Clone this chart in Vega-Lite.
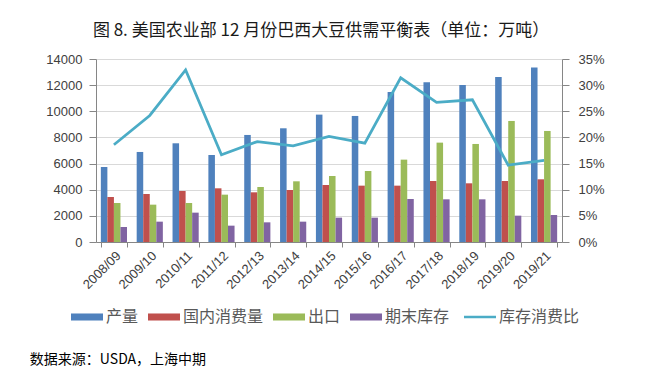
{
  "$schema": "https://vega.github.io/schema/vega-lite/v6.json",
  "background": "white",
  "padding": {"left": 29, "top": 22, "right": 10, "bottom": 2},
  "title": {
    "text": "数据来源：USDA，上海中期",
    "orient": "bottom",
    "anchor": "start",
    "frame": "bounds",
    "fontSize": 14,
    "font": "Noto Sans CJK SC",
    "fontWeight": "normal",
    "color": "#000000",
    "offset": 28,
    "dx": -16
  },
  "datasets": {
    "bars": [
      {"year": "2008/09", "series": "产量", "value": 5740},
      {"year": "2008/09", "series": "国内消费量", "value": 3444},
      {"year": "2008/09", "series": "出口", "value": 2985},
      {"year": "2008/09", "series": "期末库存", "value": 1148},
      {"year": "2009/10", "series": "产量", "value": 6888},
      {"year": "2009/10", "series": "国内消费量", "value": 3673},
      {"year": "2009/10", "series": "出口", "value": 2857},
      {"year": "2009/10", "series": "期末库存", "value": 1556},
      {"year": "2010/11", "series": "产量", "value": 7551},
      {"year": "2010/11", "series": "国内消费量", "value": 3903},
      {"year": "2010/11", "series": "出口", "value": 2985},
      {"year": "2010/11", "series": "期末库存", "value": 2245},
      {"year": "2011/12", "series": "产量", "value": 6658},
      {"year": "2011/12", "series": "国内消费量", "value": 4107},
      {"year": "2011/12", "series": "出口", "value": 3622},
      {"year": "2011/12", "series": "期末库存", "value": 1250},
      {"year": "2012/13", "series": "产量", "value": 8189},
      {"year": "2012/13", "series": "国内消费量", "value": 3801},
      {"year": "2012/13", "series": "出口", "value": 4209},
      {"year": "2012/13", "series": "期末库存", "value": 1505},
      {"year": "2013/14", "series": "产量", "value": 8699},
      {"year": "2013/14", "series": "国内消费量", "value": 3980},
      {"year": "2013/14", "series": "出口", "value": 4643},
      {"year": "2013/14", "series": "期末库存", "value": 1556},
      {"year": "2014/15", "series": "产量", "value": 9745},
      {"year": "2014/15", "series": "国内消费量", "value": 4362},
      {"year": "2014/15", "series": "出口", "value": 5051},
      {"year": "2014/15", "series": "期末库存", "value": 1862},
      {"year": "2015/16", "series": "产量", "value": 9643},
      {"year": "2015/16", "series": "国内消费量", "value": 4311},
      {"year": "2015/16", "series": "出口", "value": 5434},
      {"year": "2015/16", "series": "期末库存", "value": 1862},
      {"year": "2016/17", "series": "产量", "value": 11480},
      {"year": "2016/17", "series": "国内消费量", "value": 4311},
      {"year": "2016/17", "series": "出口", "value": 6301},
      {"year": "2016/17", "series": "期末库存", "value": 3291},
      {"year": "2017/18", "series": "产量", "value": 12219},
      {"year": "2017/18", "series": "国内消费量", "value": 4668},
      {"year": "2017/18", "series": "出口", "value": 7602},
      {"year": "2017/18", "series": "期末库存", "value": 3265},
      {"year": "2018/19", "series": "产量", "value": 12015},
      {"year": "2018/19", "series": "国内消费量", "value": 4490},
      {"year": "2018/19", "series": "出口", "value": 7500},
      {"year": "2018/19", "series": "期末库存", "value": 3265},
      {"year": "2019/20", "series": "产量", "value": 12628},
      {"year": "2019/20", "series": "国内消费量", "value": 4668},
      {"year": "2019/20", "series": "出口", "value": 9260},
      {"year": "2019/20", "series": "期末库存", "value": 2015},
      {"year": "2019/21", "series": "产量", "value": 13342},
      {"year": "2019/21", "series": "国内消费量", "value": 4796},
      {"year": "2019/21", "series": "出口", "value": 8495},
      {"year": "2019/21", "series": "期末库存", "value": 2066}
    ],
    "ratio": [
      {"year": "2008/09", "series": "库存消费比", "ratio": 0.186},
      {"year": "2009/10", "series": "库存消费比", "ratio": 0.242},
      {"year": "2010/11", "series": "库存消费比", "ratio": 0.329},
      {"year": "2011/12", "series": "库存消费比", "ratio": 0.167},
      {"year": "2012/13", "series": "库存消费比", "ratio": 0.192},
      {"year": "2013/14", "series": "库存消费比", "ratio": 0.184},
      {"year": "2014/15", "series": "库存消费比", "ratio": 0.202},
      {"year": "2015/16", "series": "库存消费比", "ratio": 0.189},
      {"year": "2016/17", "series": "库存消费比", "ratio": 0.314},
      {"year": "2017/18", "series": "库存消费比", "ratio": 0.267},
      {"year": "2018/19", "series": "库存消费比", "ratio": 0.272},
      {"year": "2019/20", "series": "库存消费比", "ratio": 0.147},
      {"year": "2019/21", "series": "库存消费比", "ratio": 0.156}
    ]
  },
  "vconcat": [
    {
      "width": 466,
      "height": 183,
      "title": {
        "text": "图 8. 美国农业部 12 月份巴西大豆供需平衡表（单位：万吨）",
        "anchor": "middle",
        "frame": "group",
        "fontSize": 17,
        "font": "Noto Sans CJK SC",
        "fontWeight": "normal",
        "color": "#1a1a1a",
        "offset": 13,
        "dx": -8
      },
      "layer": [
        {
          "data": {"name": "bars"},
          "mark": {"type": "bar"},
          "encoding": {
            "x": {
              "field": "year",
              "type": "nominal",
              "scale": {"paddingInner": 0.27, "paddingOuter": 0.135},
              "axis": {
                "title": null,
                "labelAngle": -45,
                "tickBand": "extent",
                "tickSize": 5,
                "labelPadding": 2,
                "grid": false
              }
            },
            "xOffset": {
              "field": "series",
              "type": "nominal",
              "sort": ["产量", "国内消费量", "出口", "期末库存"],
              "scale": {"paddingInner": 0, "paddingOuter": 0}
            },
            "y": {
              "field": "value",
              "type": "quantitative",
              "scale": {"domain": [0, 14000], "nice": false},
              "axis": {
                "title": null,
                "values": [0, 2000, 4000, 6000, 8000, 10000, 12000, 14000],
                "format": "d",
                "grid": true,
                "gridColor": "#d9d9d9",
                "tickSize": 7,
                "labelPadding": 7
              }
            },
            "color": {
              "field": "series",
              "type": "nominal",
              "scale": {
                "domain": ["产量", "国内消费量", "出口", "期末库存", "库存消费比"],
                "range": ["#4f81bd", "#c0504d", "#9bbb59", "#8064a2", "#4bacc6"]
              },
              "legend": {
                "title": null,
                "orient": "bottom",
                "direction": "horizontal",
                "symbolType": "M-1,-0.22H1V0.22H-1Z",
                "symbolSize": 1024,
                "labelFont": "Noto Sans CJK SC",
                "labelFontSize": 16,
                "labelColor": "#595959",
                "labelOffset": 11,
                "columnPadding": 9,
                "offset": 17,
                "encode": {
                  "symbols": {
                    "update": {
                      "shape": {"signal": "datum.value === '库存消费比' ? 'stroke' : 'M-1,-0.22H1V0.22H-1Z'"},
                      "fill": {"signal": "datum.value === '库存消费比' ? 'transparent' : scale('color', datum.value)"},
                      "stroke": {"signal": "datum.value === '库存消费比' ? '#4bacc6' : 'transparent'"},
                      "strokeWidth": {"signal": "datum.value === '库存消费比' ? 2.5 : 0"},
                      "opacity": {"value": 1}
                    }
                  }
                }
              }
            }
          }
        },
        {
          "data": {"name": "ratio"},
          "mark": {"type": "line", "strokeWidth": 2.75},
          "encoding": {
            "x": {"field": "year", "type": "nominal"},
            "y": {
              "field": "ratio",
              "type": "quantitative",
              "scale": {"domain": [0, 0.35], "nice": false},
              "axis": {
                "title": null,
                "orient": "right",
                "values": [0, 0.05, 0.1, 0.15, 0.2, 0.25, 0.3, 0.35],
                "format": ".0%",
                "grid": false,
                "tickSize": 7,
                "labelPadding": 9
              }
            },
            "color": {"field": "series", "type": "nominal"}
          }
        }
      ],
      "resolve": {"scale": {"y": "independent"}}
    }
  ],
  "config": {
    "view": {"stroke": null},
    "axis": {
      "labelFont": "Liberation Sans",
      "labelFontSize": 13,
      "labelColor": "#404040",
      "domainColor": "#868686",
      "tickColor": "#868686"
    },
    "legend": {"layout": {"bottom": {"anchor": "middle"}}}
  }
}
